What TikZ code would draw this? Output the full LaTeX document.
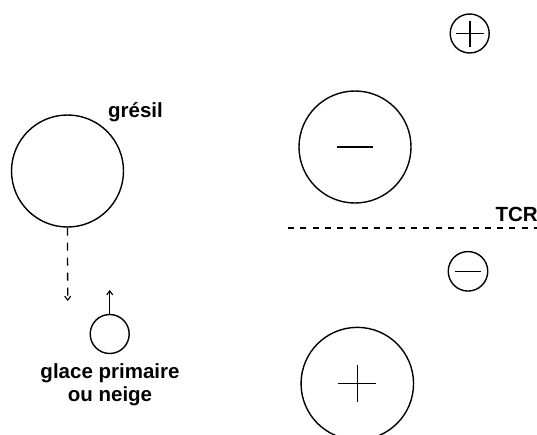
\documentclass[tikz,border=0pt]{standalone}
\usepackage{fontspec}
\setmainfont{Liberation Sans}
\usetikzlibrary{arrows.meta}
\begin{document}
\begin{tikzpicture}[x=1pt,y=-1pt,
  part/.style={draw,circle,line width=1.4pt,inner sep=0pt},
  sign/.style={line width=1.6pt},
  lbl/.style={font=\bfseries\fontsize{20.5}{23.5}\selectfont,inner sep=0pt,anchor=base},
  tip/.style={-{Straight Barb[length=4pt,width=6pt,line width=1.1pt]}}]
\clip (0,0) rectangle (537,434);
\fill[white] (0,0) rectangle (537,434);
% left side
\node[part,minimum size=112pt] (gr) at (67.5,171) {};
\node[part,minimum size=39pt] (gp) at (109.7,334) {};
\node[lbl] (tgr) at (135.5,117.3) {grésil};
\node[lbl,align=center] (tgp) at (110,401.7) {glace primaire\\ou neige};
\coordinate (gra) at (67.7,301);
\coordinate (gpa) at (109.7,290);
\draw[tip,line width=1.3pt,dash pattern=on 8pt off 7pt] (gr.south) -- (gra);
\draw[tip,line width=1.3pt] (gp.north) -- (gpa);
% right side
\node[part,minimum size=39pt] (pp) at (469.7,33.5) {};
\draw[sign] ([xshift=-14pt]pp.center) -- ([xshift=14pt]pp.center);
\draw[sign] ([yshift=-13pt]pp.center) -- ([yshift=13pt]pp.center);
\node[part,minimum size=112pt] (bm) at (355,147) {};
\draw[sign] ([xshift=-18pt]bm.center) -- ([xshift=18pt]bm.center);
\coordinate (tl) at (288,227.7);
\coordinate (tr) at (537,227.7);
\draw[line width=1.6pt,dash pattern=on 6pt off 6.3pt] (tl) -- (tr);
\node[lbl] (tcr) at (516.7,221.7) {TCR};
\node[part,minimum size=39.5pt] (pm) at (468,271.3) {};
\draw[sign] ([xshift=-13pt]pm.center) -- ([xshift=13pt]pm.center);
\node[part,minimum size=112.5pt] (bp) at (357.3,383.6) {};
\draw[sign] ([xshift=-19pt]bp.center) -- ([xshift=19pt]bp.center);
\draw[sign] ([yshift=-18pt]bp.center) -- ([yshift=19pt]bp.center);
\end{tikzpicture}
\end{document}
